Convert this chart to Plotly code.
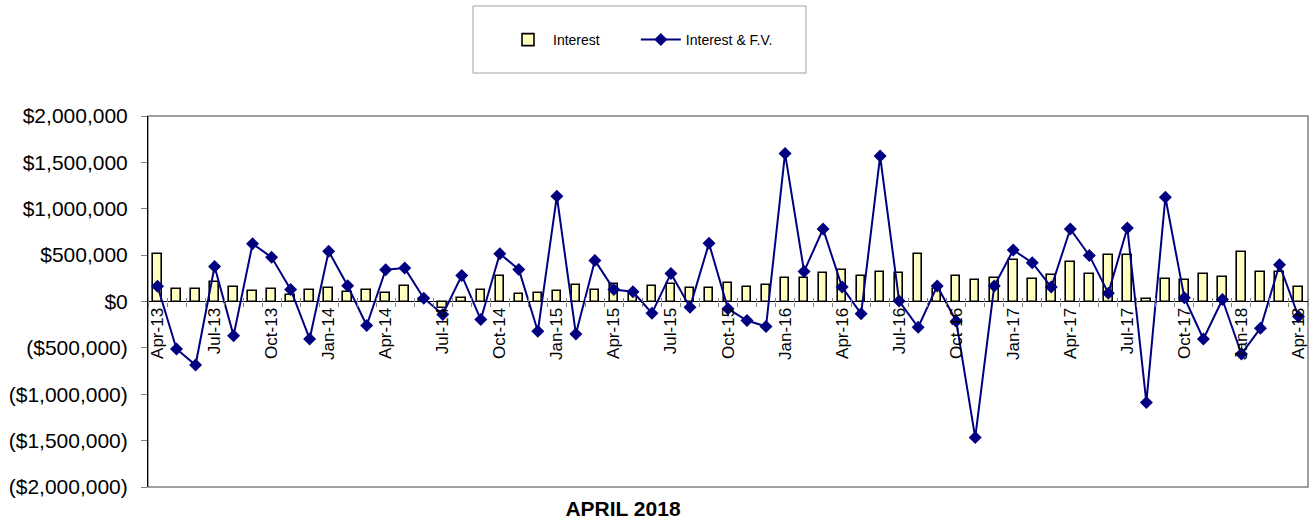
import plotly.graph_objects as go

# ---- data ----
month_names = ["Jan", "Feb", "Mar", "Apr", "May", "Jun", "Jul", "Aug", "Sep", "Oct", "Nov", "Dec"]
months = []
for yr in range(13, 19):
    for mi, mn in enumerate(month_names):
        if (yr == 13 and mi < 3) or (yr == 18 and mi > 3):
            continue
        months.append(f"{mn}-{yr}")

interest = [508, 137, 137, 209, 159, 115, 133, 65, 119, 148, 101, 119, 94, 166, 30,
            -75, 43, 119, 270, 83, 97, 108, 177, 126, 184, 101, 162, 184, 148, 148,
            195, 151, 180, 252, 256, 306, 335, 274, 321, 310, 512, 140, 274, 227, 249,
            450, 238, 288, 425, 299, 497, 497, 29, 241, 234, 299, 259, 533, 317, 321, 151]
interest_fv = [165, -512, -685, 378, -368, 623, 476, 130, -404, 541, 169, -259, 342, 360, 36,
               -140, 281, -195, 515, 346, -321, 1135, -350, 443, 130, 105, -126, 303, -61, 627,
               -79, -205, -270, 1597, 324, 782, 155, -133, 1568, 5, -278, 166, -212, -1467, 166,
               555, 418, 155, 782, 497, 90, 793, -1088, 1124, 40, -404, 22, -566, -288, 396, -162]
interest = [v * 1000 for v in interest]
interest_fv = [v * 1000 for v in interest_fv]

y_tickvals = [-2000000, -1500000, -1000000, -500000, 0, 500000, 1000000, 1500000, 2000000]
y_ticktext = ["($2,000,000)", "($1,500,000)", "($1,000,000)", "($500,000)", "$0",
              "$500,000", "$1,000,000", "$1,500,000", "$2,000,000"]

idx = list(range(len(months)))
label_idx = idx[::3]
label_text = [months[i] for i in label_idx]
boundaries = [i - 0.5 for i in range(len(months) + 1)]

FONT = "Arial, Liberation Sans, sans-serif"
PAD = "\u00a0" * 8

fig = go.Figure()
fig.add_trace(go.Bar(
    x=idx, y=interest, name="Interest" + PAD,
    marker=dict(color="#FFFFC0", line=dict(color="black", width=1.6)),
    width=0.45, xaxis="x", yaxis="y",
))
fig.add_trace(go.Scatter(
    x=idx, y=interest_fv, name="Interest & F.V.", mode="lines+markers",
    line=dict(color="#000080", width=2),
    marker=dict(symbol="diamond", size=10, color="#000080"),
    xaxis="x2", yaxis="y",
))

fig.update_layout(
    width=1315, height=529,
    margin=dict(l=148, r=7, t=116, b=42),
    plot_bgcolor="white", paper_bgcolor="white",
    font=dict(family=FONT, color="black"),
    bargap=0,
    showlegend=True,
    legend=dict(orientation="h", x=(503 - 148) / 1160, xanchor="left",
                y=(487 - 40) / 371, yanchor="middle",
                font=dict(size=14, family=FONT), bgcolor="rgba(0,0,0,0)",
                itemwidth=40),
    xaxis=dict(range=[-0.5, len(months) - 0.5], anchor="free", position=0.5,
               tickmode="array", tickvals=label_idx, ticktext=label_text,
               tickangle=-90, ticks="", showgrid=False, showline=False, zeroline=False,
               tickfont=dict(size=17, family=FONT), ticklabelstandoff=2,
               minor=dict(tickmode="array", tickvals=boundaries, ticks="outside",
                          ticklen=4, tickcolor="#808080", tickwidth=1, showgrid=False)),
    xaxis2=dict(range=[-0.5, len(months) - 0.5], matches="x", overlaying="x",
                anchor="free", position=0.5, side="top",
                showticklabels=False, ticks="", showgrid=False, showline=False, zeroline=False,
                tickmode="array", tickvals=label_idx,
                minor=dict(tickmode="array", tickvals=boundaries, ticks="outside",
                           ticklen=4, tickcolor="#808080", tickwidth=1, showgrid=False)),
    yaxis=dict(range=[-2000000, 2000000], tickmode="array", tickvals=y_tickvals,
               ticktext=y_ticktext, ticks="outside", ticklen=6, tickcolor="#808080",
               showgrid=False, showline=True, linecolor="black", linewidth=1,
               zeroline=True, zerolinecolor="black", zerolinewidth=1,
               tickfont=dict(size=21, family=FONT), ticklabelstandoff=9),
    title=dict(text="<b>APRIL 2018</b>", x=(623) / 1315, xanchor="center",
               xref="container", yref="container", y=1 - 509 / 529, yanchor="middle",
               font=dict(size=21, family=FONT, color="black")),
    shapes=[
        dict(type="rect", xref="x domain", yref="y domain", x0=0, x1=1, y0=0, y1=1,
             line=dict(color="#808080", width=1.5), layer="below"),
        dict(type="rect", xref="paper", yref="paper",
             x0=(473 - 148) / 1160, x1=(806 - 148) / 1160,
             y0=(487 - 73) / 371, y1=(487 - 6) / 371,
             line=dict(color="#A0A0A0", width=1)),
    ],
)

fig.write_html("out.html", config={"displayModeBar": False},
               post_script="document.body.style.margin='0';")
